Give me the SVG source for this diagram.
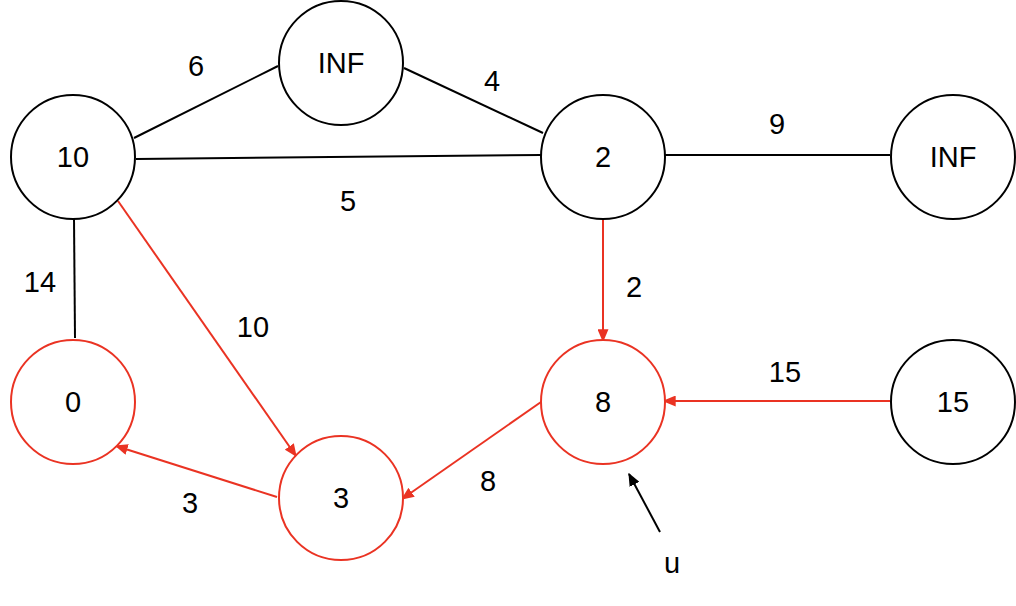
<svg xmlns="http://www.w3.org/2000/svg" width="1016" height="606" viewBox="0 0 1016 606">
  <style>
    .node { fill: #ffffff; stroke-width: 2; }
    .black { stroke: #000000; }
    .red { stroke: #EA3323; }
    .lbl { font-family: "Liberation Sans", Arial, sans-serif; font-size: 29px; fill: #000000; text-anchor: middle; dominant-baseline: central; }
    .edge { fill: none; stroke-width: 2; }
  </style>
  <defs>
    <marker id="arrRed" viewBox="0 0 10 10" refX="9" refY="5" markerWidth="13" markerHeight="11" markerUnits="userSpaceOnUse" orient="auto" preserveAspectRatio="none">
      <path d="M0,0 L10,5 L0,10 z" fill="#EA3323"/>
    </marker>
    <marker id="arrBlack" viewBox="0 0 10 10" refX="9" refY="5" markerWidth="13" markerHeight="11" markerUnits="userSpaceOnUse" orient="auto" preserveAspectRatio="none">
      <path d="M0,0 L10,5 L0,10 z" fill="#000000"/>
    </marker>
  </defs>

  <g id="connectors">
    <line class="edge black" x1="134" y1="138" x2="278" y2="66"/>
    <line class="edge black" x1="404" y1="68" x2="543" y2="133"/>
    <line class="edge black" x1="136" y1="159" x2="541" y2="155"/>
    <line class="edge black" x1="664" y1="155" x2="890" y2="155"/>
    <line class="edge black" x1="74" y1="218" x2="75" y2="338"/>
    <line class="edge red" x1="118" y1="201" x2="296" y2="456" marker-end="url(#arrRed)"/>
    <line class="edge red" x1="277" y1="497" x2="116" y2="446" marker-end="url(#arrRed)"/>
    <line class="edge red" x1="603" y1="220" x2="603" y2="341" marker-end="url(#arrRed)"/>
    <line class="edge red" x1="890" y1="401" x2="664" y2="401" marker-end="url(#arrRed)"/>
    <line class="edge red" x1="541" y1="402" x2="402" y2="499" marker-end="url(#arrRed)"/>
    <line class="edge black" x1="660" y1="532" x2="629" y2="474" marker-end="url(#arrBlack)"/>
    <text class="lbl" x="196" y="66">6</text>
    <text class="lbl" x="492" y="81">4</text>
    <text class="lbl" x="777" y="124">9</text>
    <text class="lbl" x="348" y="201">5</text>
    <text class="lbl" x="40" y="282">14</text>
    <text class="lbl" x="253" y="327">10</text>
    <text class="lbl" x="634" y="287">2</text>
    <text class="lbl" x="785" y="372">15</text>
    <text class="lbl" x="190" y="503">3</text>
    <text class="lbl" x="488" y="481">8</text>
    <text class="lbl" x="672" y="563">u</text>
  </g>

  <g id="node-10">
    <circle class="node black" cx="73" cy="157" r="62"/>
    <text class="lbl" x="73" y="157">10</text>
  </g>
  <g id="node-inf-top">
    <circle class="node black" cx="341" cy="63" r="62"/>
    <text class="lbl" x="341" y="63">INF</text>
  </g>
  <g id="node-2">
    <circle class="node black" cx="603" cy="157" r="62"/>
    <text class="lbl" x="603" y="157">2</text>
  </g>
  <g id="node-inf-right">
    <circle class="node black" cx="953" cy="157" r="62"/>
    <text class="lbl" x="953" y="157">INF</text>
  </g>
  <g id="node-0">
    <circle class="node red" cx="73" cy="402" r="62"/>
    <text class="lbl" x="73" y="402">0</text>
  </g>
  <g id="node-8">
    <circle class="node red" cx="603" cy="402" r="62"/>
    <text class="lbl" x="603" y="402">8</text>
  </g>
  <g id="node-15">
    <circle class="node black" cx="953" cy="402" r="62"/>
    <text class="lbl" x="953" y="402">15</text>
  </g>
  <g id="node-3">
    <circle class="node red" cx="341" cy="498" r="62"/>
    <text class="lbl" x="341" y="498">3</text>
  </g>
</svg>
